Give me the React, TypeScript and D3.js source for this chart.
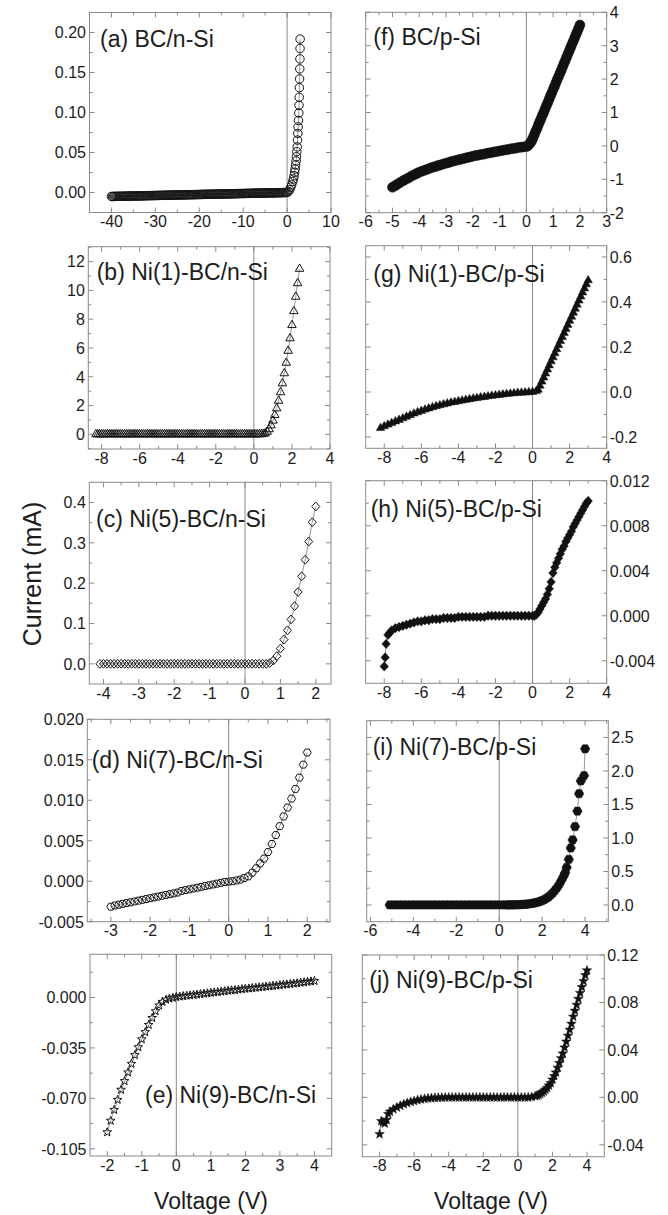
import React from 'react';
import * as d3 from 'd3';

// ---------------- data (voltage V, current mA) ----------------
// (a) BC/n-Si
const aV = [
  -40,-39.75,-39.5,-39.25,-39,-38.75,-38.5,-38.25,
  -38,-37.75,-37.5,-37.25,-37,-36.75,-36.5,-36.25,
  -36,-35.75,-35.5,-35.25,-35,-34.75,-34.5,-34.25,
  -34,-33.75,-33.5,-33.25,-33,-32.75,-32.5,-32.25,
  -32,-31.75,-31.5,-31.25,-31,-30.75,-30.5,-30.25,
  -30,-29.75,-29.5,-29.25,-29,-28.75,-28.5,-28.25,
  -28,-27.75,-27.5,-27.25,-27,-26.75,-26.5,-26.25,
  -26,-25.75,-25.5,-25.25,-25,-24.75,-24.5,-24.25,
  -24,-23.75,-23.5,-23.25,-23,-22.75,-22.5,-22.25,
  -22,-21.75,-21.5,-21.25,-21,-20.75,-20.5,-20.25,
  -20,-19.75,-19.5,-19.25,-19,-18.75,-18.5,-18.25,
  -18,-17.75,-17.5,-17.25,-17,-16.75,-16.5,-16.25,
  -16,-15.75,-15.5,-15.25,-15,-14.75,-14.5,-14.25,
  -14,-13.75,-13.5,-13.25,-13,-12.75,-12.5,-12.25,
  -12,-11.75,-11.5,-11.25,-11,-10.75,-10.5,-10.25,
  -10,-9.75,-9.5,-9.25,-9,-8.75,-8.5,-8.25,
  -8,-7.75,-7.5,-7.25,-7,-6.75,-6.5,-6.25,
  -6,-5.75,-5.5,-5.25,-5,-4.75,-4.5,-4.25,
  -4,-3.75,-3.5,-3.25,-3,-2.75,-2.5,-2.25,
  -2,-1.75,-1.5,-1.25,-1,-0.75,-0.5,-0.25,
  0,
  0.3,0.6,0.84,1.05,1.29,1.45,1.6,1.72,1.83,1.94,2.05,2.13,2.21,2.3,2.38,2.44,2.52,2.59,2.66,2.72,2.76,2.8,2.84,2.88,2.92,2.95,2.97
];
const aI = [
  -0.0050,-0.0050,-0.0049,-0.0049,-0.0049,-0.0048,-0.0048,-0.0048,
  -0.0048,-0.0047,-0.0047,-0.0047,-0.0046,-0.0046,-0.0046,-0.0045,
  -0.0045,-0.0045,-0.0044,-0.0044,-0.0044,-0.0043,-0.0043,-0.0043,
  -0.0043,-0.0042,-0.0042,-0.0042,-0.0041,-0.0041,-0.0041,-0.0040,
  -0.0040,-0.0040,-0.0039,-0.0039,-0.0039,-0.0038,-0.0038,-0.0038,
  -0.0038,-0.0037,-0.0037,-0.0037,-0.0036,-0.0036,-0.0036,-0.0035,
  -0.0035,-0.0035,-0.0034,-0.0034,-0.0034,-0.0033,-0.0033,-0.0033,
  -0.0033,-0.0032,-0.0032,-0.0032,-0.0031,-0.0031,-0.0031,-0.0030,
  -0.0030,-0.0030,-0.0029,-0.0029,-0.0029,-0.0028,-0.0028,-0.0028,
  -0.0028,-0.0027,-0.0027,-0.0027,-0.0026,-0.0026,-0.0026,-0.0025,
  -0.0025,-0.0025,-0.0024,-0.0024,-0.0024,-0.0023,-0.0023,-0.0023,
  -0.0023,-0.0022,-0.0022,-0.0022,-0.0021,-0.0021,-0.0021,-0.0020,
  -0.0020,-0.0020,-0.0019,-0.0019,-0.0019,-0.0018,-0.0018,-0.0018,
  -0.0018,-0.0017,-0.0017,-0.0017,-0.0016,-0.0016,-0.0016,-0.0015,
  -0.0015,-0.0015,-0.0014,-0.0014,-0.0014,-0.0013,-0.0013,-0.0013,
  -0.0013,-0.0012,-0.0012,-0.0012,-0.0011,-0.0011,-0.0011,-0.0010,
  -0.0010,-0.0010,-0.0009,-0.0009,-0.0009,-0.0008,-0.0008,-0.0008,
  -0.0008,-0.0007,-0.0007,-0.0007,-0.0006,-0.0006,-0.0006,-0.0005,
  -0.0005,-0.0005,-0.0004,-0.0004,-0.0004,-0.0003,-0.0003,-0.0003,
  -0.0003,-0.0002,-0.0002,-0.0002,-0.0001,-0.0001,-0.0001,0.0000,
  0.0000,
  0.0013,0.0034,0.0067,0.0096,0.0137,0.017,0.021,0.0253,0.0294,0.0344,0.0394,0.0447,0.051,0.057,0.0655,0.0738,0.082,0.09,0.0994,0.109,0.119,0.131,0.142,0.1545,0.167,0.18,0.1918
];

// (f) BC/p-Si
const fV = [
  -5.0,-4.9,-4.8,-4.7,-4.6,-4.5,-4.4,-4.3,-4.2,-4.1,
  -4.0,-3.9,-3.8,-3.7,-3.6,-3.5,-3.4,-3.3,-3.2,-3.1,
  -3.0,-2.9,-2.8,-2.7,-2.6,-2.5,-2.4,-2.3,-2.2,-2.1,
  -2.0,-1.9,-1.8,-1.7,-1.6,-1.5,-1.4,-1.3,-1.2,-1.1,
  -1.0,-0.9,-0.8,-0.7,-0.6,-0.5,-0.4,-0.3,-0.2,-0.1,
  0.0,
  0.05,0.1,0.15,0.2,0.25,0.3,0.35,0.4,0.45,0.5,
  0.55,0.6,0.65,0.7,0.75,0.8,0.85,0.9,0.95,1.0,
  1.05,1.1,1.15,1.2,1.25,1.3,1.35,1.4,1.45,1.5,
  1.55,1.6,1.65,1.7,1.75,1.8,1.85,1.9,1.95,2.0
];
const fI = [
  -1.24,-1.19,-1.14,-1.09,-1.04,-1.00,-0.96,-0.91,-0.87,-0.83,
  -0.79,-0.76,-0.73,-0.70,-0.67,-0.64,-0.62,-0.59,-0.57,-0.54,
  -0.52,-0.50,-0.47,-0.45,-0.43,-0.41,-0.39,-0.37,-0.35,-0.33,
  -0.31,-0.29,-0.28,-0.26,-0.25,-0.23,-0.21,-0.20,-0.18,-0.17,
  -0.15,-0.14,-0.12,-0.11,-0.09,-0.08,-0.07,-0.05,-0.04,-0.03,
  -0.02,
  0.00,0.04,0.09,0.15,0.24,0.34,0.44,0.53,0.63,0.73,
  0.82,0.92,1.01,1.11,1.21,1.30,1.40,1.50,1.59,1.69,
  1.78,1.88,1.98,2.07,2.17,2.26,2.36,2.46,2.55,2.65,
  2.75,2.84,2.94,3.04,3.13,3.23,3.33,3.42,3.52,3.62
];

// (b) Ni(1)-BC/n-Si
const bV = [
  -8.3,-8.2,-8.1,-8.0,-7.9,-7.8,-7.7,-7.6,-7.5,-7.4,
  -7.3,-7.2,-7.1,-7.0,-6.9,-6.8,-6.7,-6.6,-6.5,-6.4,
  -6.3,-6.2,-6.1,-6.0,-5.9,-5.8,-5.7,-5.6,-5.5,-5.4,
  -5.3,-5.2,-5.1,-5.0,-4.9,-4.8,-4.7,-4.6,-4.5,-4.4,
  -4.3,-4.2,-4.1,-4.0,-3.9,-3.8,-3.7,-3.6,-3.5,-3.4,
  -3.3,-3.2,-3.1,-3.0,-2.9,-2.8,-2.7,-2.6,-2.5,-2.4,
  -2.3,-2.2,-2.1,-2.0,-1.9,-1.8,-1.7,-1.6,-1.5,-1.4,
  -1.3,-1.2,-1.1,-1.0,-0.9,-0.8,-0.7,-0.6,-0.5,-0.4,
  -0.3,-0.2,-0.1,0.0,0.1,0.2,0.3,0.4,0.5,0.6,
  0.7,0.8,0.9,1.0,1.1,1.2,1.3,1.4,1.5,1.6,1.7,1.8,1.9,2.0,2.1,2.2,2.3,2.4
];
const bI = [
  0,0,0,0,0,0,0,0,0,0,
  0,0,0,0,0,0,0,0,0,0,
  0,0,0,0,0,0,0,0,0,0,
  0,0,0,0,0,0,0,0,0,0,
  0,0,0,0,0,0,0,0,0,0,
  0,0,0,0,0,0,0,0,0,0,
  0,0,0,0,0,0,0,0,0,0,
  0,0,0,0,0,0,0,0,0,0,
  0,0,0,0,0,0,0,0.01,0.03,0.07,
  0.18,0.35,0.62,0.95,1.34,1.8,2.33,2.92,3.54,4.24,4.97,5.8,6.67,7.59,8.56,9.56,10.5,11.5
];

// (g) Ni(1)-BC/p-Si
const gV = [
  -8.2,-8.0,-7.8,-7.6,-7.4,-7.2,-7.0,-6.8,-6.6,-6.4,
  -6.2,-6.0,-5.8,-5.6,-5.4,-5.2,-5.0,-4.8,-4.6,-4.4,
  -4.2,-4.0,-3.8,-3.6,-3.4,-3.2,-3.0,-2.8,-2.6,-2.4,
  -2.2,-2.0,-1.8,-1.6,-1.4,-1.2,-1.0,-0.8,-0.6,-0.4,
  -0.2,0.0,0.2,
  0.3,0.4,0.5,0.6,0.7,0.8,0.9,1.0,1.1,1.2,1.3,1.4,1.5,1.6,
  1.7,1.8,1.9,2.0,2.1,2.2,2.3,2.4,2.5,2.6,2.7,2.8,2.9,3.0
];
const gI = [
  -0.160,-0.152,-0.145,-0.138,-0.131,-0.124,-0.117,-0.110,-0.103,-0.096,
  -0.090,-0.084,-0.078,-0.073,-0.068,-0.063,-0.059,-0.055,-0.051,-0.047,
  -0.044,-0.041,-0.038,-0.035,-0.032,-0.029,-0.027,-0.024,-0.022,-0.019,
  -0.017,-0.015,-0.013,-0.011,-0.009,-0.007,-0.006,-0.004,-0.003,-0.002,
  -0.001,0.000,0.004,
  0.010,0.028,0.046,0.064,0.082,0.100,0.118,0.136,0.154,0.172,0.190,0.208,0.226,0.244,
  0.262,0.280,0.298,0.316,0.334,0.352,0.370,0.388,0.406,0.424,0.442,0.460,0.478,0.496
];

// (c) Ni(5)-BC/n-Si
const cV = [
  -4.1,-4.0,-3.9,-3.8,-3.7,-3.6,-3.5,-3.4,-3.3,-3.2,
  -3.1,-3.0,-2.9,-2.8,-2.7,-2.6,-2.5,-2.4,-2.3,-2.2,
  -2.1,-2.0,-1.9,-1.8,-1.7,-1.6,-1.5,-1.4,-1.3,-1.2,
  -1.1,-1.0,-0.9,-0.8,-0.7,-0.6,-0.5,-0.4,-0.3,-0.2,
  -0.1,0.0,0.1,0.2,0.3,0.4,0.5,0.6,
  0.7,0.8,0.9,1.0,1.1,1.2,1.3,1.4,1.5,1.6,1.7,1.8,1.9,2.0
];
const cI = [
  0,0,0,0,0,0,0,0,0,0,
  0,0,0,0,0,0,0,0,0,0,
  0,0,0,0,0,0,0,0,0,0,
  0,0,0,0,0,0,0,0,0,0,
  0,0,0,0,0,0,0,0,
  0.002,0.008,0.019,0.038,0.060,0.083,0.110,0.143,0.178,0.217,0.258,0.303,0.351,0.39
];

// (h) Ni(5)-BC/p-Si
const hV = [
  -8.0,-7.95,-7.9,-7.8,-7.7,
  -7.6,-7.4,-7.2,-7.0,-6.8,-6.6,-6.4,-6.2,-6.0,-5.8,
  -5.6,-5.4,-5.2,-5.0,-4.8,-4.6,-4.4,-4.2,-4.0,-3.8,
  -3.6,-3.4,-3.2,-3.0,-2.8,-2.6,-2.4,-2.2,-2.0,-1.8,
  -1.6,-1.4,-1.2,-1.0,-0.8,-0.6,-0.4,-0.2,0.0,
  0.1,0.2,0.3,0.4,0.5,0.6,0.7,0.8,0.9,1.0,
  1.1,1.2,1.3,1.4,1.5,1.6,1.7,1.8,1.9,2.0,
  2.1,2.2,2.3,2.4,2.5,2.6,2.7,2.8,2.9,3.0
];
const hI = [
  -0.0045,-0.0037,-0.0025,-0.0017,-0.0015,
  -0.0013,-0.0011,-0.0010,-0.0009,-0.0008,-0.0007,-0.0006,-0.0005,-0.0005,-0.0004,
  -0.0004,-0.0003,-0.0003,-0.0003,-0.0002,-0.0002,-0.0002,-0.0002,-0.0001,-0.0001,
  -0.0001,-0.0001,-0.0001,-0.0001,-0.0001,-0.0001,0,0,0,0,
  0,0,0,0,0,0,0,0,0,
  0,0.0001,0.0003,0.0006,0.0009,0.0012,0.0015,0.0019,0.0024,0.0030,
  0.0038,0.0043,0.0047,0.0051,0.0055,0.0059,0.0062,0.0066,0.0069,0.0072,
  0.0075,0.0079,0.0082,0.0085,0.0088,0.0091,0.0094,0.0097,0.0100,0.0102
];

// (d) Ni(7)-BC/n-Si
const dV = [
  -3.0,-2.9,-2.8,-2.7,-2.6,-2.5,-2.4,-2.3,-2.2,-2.1,
  -2.0,-1.9,-1.8,-1.7,-1.6,-1.5,-1.4,-1.3,-1.2,-1.1,
  -1.0,-0.9,-0.8,-0.7,-0.6,-0.5,-0.4,-0.3,-0.2,-0.1,
  0.0,0.1,0.2,0.3,0.4,0.5,0.6,0.7,0.8,0.9,
  1.0,1.1,1.2,1.3,1.4,1.5,1.6,1.7,1.8,1.9,2.0
];
const dI = [
  -0.00315,-0.0030,-0.0029,-0.0028,-0.0027,-0.0026,-0.0025,-0.0024,-0.0023,-0.0022,
  -0.0021,-0.0020,-0.0019,-0.0018,-0.0017,-0.0016,-0.0015,-0.0014,-0.0012,-0.0011,
  -0.0010,-0.0009,-0.0008,-0.0007,-0.0006,-0.0005,-0.0004,-0.0003,-0.0002,-0.0001,
  -0.00005,0.0,0.0001,0.0002,0.0004,0.0006,0.00105,0.0016,0.0022,0.0028,
  0.0036,0.0046,0.0057,0.0068,0.0080,0.0091,0.0102,0.0114,0.0128,0.0144,0.0159
];

// (i) Ni(7)-BC/p-Si
const iV = [
  -5.1,-4.9,-4.7,-4.5,-4.3,-4.1,-3.9,-3.7,-3.5,-3.3,
  -3.1,-2.9,-2.7,-2.5,-2.3,-2.1,-1.9,-1.7,-1.5,-1.3,
  -1.1,-0.9,-0.7,-0.5,-0.3,-0.1,0.1,0.3,
  0.4,0.5,0.6,0.7,0.8,0.9,1.0,1.1,1.2,1.3,1.4,1.5,1.6,1.7,
  1.8,1.9,2.0,2.1,2.2,2.3,2.4,2.5,2.6,2.7,2.8,2.9,3.0,
  3.07,3.14,3.24,3.33,3.42,3.53,3.64,3.72,3.8,3.95,4.0
];
const iI = [
  0,0,0,0,0,0,0,0,0,0,
  0,0,0,0,0,0,0,0,0,0,
  0,0,0,0,0,0,0,0,
  0.0,0.0005,0.001,0.002,0.003,0.0045,0.006,0.008,0.010,0.013,0.017,0.022,0.028,0.035,
  0.043,0.053,0.065,0.08,0.10,0.12,0.15,0.18,0.22,0.26,0.31,0.37,0.43,
  0.48,0.56,0.68,0.85,0.97,1.17,1.40,1.66,1.85,1.93,2.33
];

// (e) Ni(9)-BC/n-Si
const eV = [
  -2.0,-1.9,-1.8,-1.7,-1.6,-1.5,-1.4,-1.3,-1.2,-1.1,
  -1.0,-0.9,-0.8,-0.7,-0.6,-0.5,-0.4,-0.3,-0.2,-0.1,
  0.0,0.1,0.2,0.3,0.4,0.5,0.6,0.7,0.8,0.9,
  1.0,1.1,1.2,1.3,1.4,1.5,1.6,1.7,1.8,1.9,
  2.0,2.1,2.2,2.3,2.4,2.5,2.6,2.7,2.8,2.9,
  3.0,3.1,3.2,3.3,3.4,3.5,3.6,3.7,3.8,3.9,4.0
];
const eI = [
  -0.0935,-0.0855,-0.078,-0.071,-0.064,-0.058,-0.052,-0.046,-0.040,-0.0345,
  -0.029,-0.024,-0.019,-0.0142,-0.0095,-0.0055,-0.003,-0.0015,-0.0007,-0.0002,
  0.0004,0.0007,0.0010,0.0013,0.0015,0.0018,0.0021,0.0024,0.0027,0.0030,
  0.0033,0.0036,0.0038,0.0041,0.0044,0.0047,0.0050,0.0052,0.0055,0.0058,
  0.0061,0.0063,0.0066,0.0068,0.0071,0.0073,0.0076,0.0078,0.0081,0.0083,
  0.0086,0.0089,0.0091,0.0094,0.0097,0.0100,0.0103,0.0106,0.0109,0.0112,0.0115
];

// (j) Ni(9)-BC/p-Si
const jV = [
  -8.0,-7.9,-7.8,-7.7,-7.6,-7.5,-7.4,
  -7.2,-7.0,-6.8,-6.6,-6.4,-6.2,-6.0,-5.8,-5.6,-5.4,-5.2,-5.0,-4.8,-4.6,-4.4,-4.2,
  -4.0,-3.8,-3.6,-3.4,-3.2,-3.0,-2.8,-2.6,-2.4,-2.2,-2.0,-1.8,-1.6,-1.4,-1.2,-1.0,
  -0.8,-0.6,-0.4,-0.2,0.0,0.2,0.4,0.6,0.8,1.0,
  1.1,1.2,1.3,1.4,1.5,1.6,1.7,1.8,1.9,2.0,
  2.1,2.2,2.3,2.4,2.5,2.6,2.7,2.8,2.9,3.0,
  3.1,3.2,3.3,3.4,3.5,3.6,3.7,3.8,3.9,4.0
];
const jI = [
  -0.031,-0.020,-0.021,-0.022,-0.019,-0.014,-0.012,
  -0.010,-0.0085,-0.007,-0.0058,-0.0047,-0.0038,-0.003,-0.0023,-0.0017,-0.0012,-0.0008,-0.0006,-0.0004,-0.0003,-0.0002,-0.0001,
  0,0,0,0,0,0,0,0,0,0,0,0,0,0,0,0,
  0,0,0,0,0,0,0,0,0.0003,0.001,
  0.0015,0.002,0.003,0.004,0.005,0.0065,0.008,0.010,0.012,0.015,
  0.018,0.021,0.025,0.029,0.033,0.037,0.042,0.047,0.052,0.057,
  0.062,0.068,0.073,0.078,0.083,0.088,0.093,0.098,0.103,0.107
];

// ---------------- tick values ----------------
const aXTicks = [-40, -30, -20, -10, 0, 10];
const aYTicks = [0, 0.05, 0.1, 0.15, 0.2];
const fXTicks = [-6, -5, -4, -3, -2, -1, 0, 1, 2, 3];
const fYTicks = [-2, -1, 0, 1, 2, 3, 4];
const bXTicks = [-8, -6, -4, -2, 0, 2, 4];
const bYTicks = [0, 2, 4, 6, 8, 10, 12];
const gXTicks = [-8, -6, -4, -2, 0, 2, 4];
const gYTicks = [-0.2, 0, 0.2, 0.4, 0.6];
const cXTicks = [-4, -3, -2, -1, 0, 1, 2];
const cYTicks = [0, 0.1, 0.2, 0.3, 0.4];
const hXTicks = [-8, -6, -4, -2, 0, 2, 4];
const hYTicks = [-0.004, 0, 0.004, 0.008, 0.012];
const dXTicks = [-3, -2, -1, 0, 1, 2];
const dYTicks = [-0.005, 0, 0.005, 0.01, 0.015, 0.02];
const iXTicks = [-6, -4, -2, 0, 2, 4];
const iYTicks = [0, 0.5, 1, 1.5, 2, 2.5];
const eXTicks = [-2, -1, 0, 1, 2, 3, 4];
const eYTicks = [-0.105, -0.07, -0.035, 0];
const jXTicks = [-8, -6, -4, -2, 0, 2, 4];
const jYTicks = [-0.04, 0, 0.04, 0.08, 0.12];

// ---------------- layout ----------------
const FONT = '"Liberation Sans", Arial, Helvetica, sans-serif';
const FRAME = '#8a8a8a';
const INK = '#1c1c1c';

const panels = [
  { title: '(a) BC/n-Si', V: aV, I: aI, xt: aXTicks, yt: aYTicks, xd: 0, yd: 2, xDom: [-45, 10], yDom: [-0.025, 0.225], box: [89.5, 12.5, 331, 212.5], side: 'left', tx: 100, ty: 46.7, mk: 'circle', fill: false, sz: 8.5 },
  { title: '(f) BC/p-Si', V: fV, I: fI, xt: fXTicks, yt: fYTicks, xd: 0, yd: 0, xDom: [-6, 3], yDom: [-2, 4], box: [365.7, 12.3, 606.7, 212.7], side: 'right', tx: 373.3, ty: 45, mk: 'circle', fill: true, sz: 10 },
  { title: '(b) Ni(1)-BC/n-Si', V: bV, I: bI, xt: bXTicks, yt: bYTicks, xd: 0, yd: 0, xDom: [-8.7, 4], yDom: [-1.02, 13.04], box: [88.3, 246.7, 330, 449], side: 'left', tx: 96.7, ty: 280, mk: 'triangle', fill: false, sz: 8.5 },
  { title: '(g) Ni(1)-BC/p-Si', V: gV, I: gI, xt: gXTicks, yt: gYTicks, xd: 0, yd: 1, xDom: [-9, 4], yDom: [-0.25, 0.65], box: [365.7, 245.7, 606.7, 448.3], side: 'right', tx: 373.3, ty: 281.7, mk: 'triangle', fill: true, sz: 8.5 },
  { title: '(c) Ni(5)-BC/n-Si', V: cV, I: cI, xt: cXTicks, yt: cYTicks, xd: 0, yd: 1, xDom: [-4.4, 2.43], yDom: [-0.05, 0.45], box: [89.3, 482.3, 331, 684], side: 'left', tx: 96, ty: 526.7, mk: 'diamond', fill: false, sz: 8 },
  { title: '(h) Ni(5)-BC/p-Si', V: hV, I: hI, xt: hXTicks, yt: hYTicks, xd: 0, yd: 3, xDom: [-9, 4], yDom: [-0.006, 0.012], box: [365.7, 480.7, 606.7, 683.3], side: 'right', tx: 370.7, ty: 516.7, mk: 'diamond', fill: true, sz: 8.5 },
  { title: '(d) Ni(7)-BC/n-Si', V: dV, I: dI, xt: dXTicks, yt: dYTicks, xd: 0, yd: 3, xDom: [-3.6, 2.58], yDom: [-0.005, 0.02], box: [87.3, 719.3, 330, 921.7], side: 'left', tx: 91.7, ty: 768.3, mk: 'hexagon', fill: false, sz: 8 },
  { title: '(i) Ni(7)-BC/p-Si', V: iV, I: iI, xt: iXTicks, yt: iYTicks, xd: 0, yd: 1, xDom: [-6.17, 5.08], yDom: [-0.25, 2.75], box: [366.7, 720.7, 608.3, 921.7], side: 'right', tx: 372.7, ty: 755, mk: 'hexagon', fill: true, sz: 9.5 },
  { title: '(e) Ni(9)-BC/n-Si', V: eV, I: eI, xt: eXTicks, yt: eYTicks, xd: 0, yd: 3, xDom: [-2.5, 4.5], yDom: [-0.11, 0.03], box: [90, 954.3, 331.7, 1156], side: 'left', tx: 145, ty: 1103.3, mk: 'star', fill: false, sz: 9 },
  { title: '(j) Ni(9)-BC/p-Si', V: jV, I: jI, xt: jXTicks, yt: jYTicks, xd: 0, yd: 2, xDom: [-9, 5], yDom: [-0.05, 0.12], box: [362.3, 955, 604.3, 1156.7], side: 'right', tx: 369.3, ty: 988.3, mk: 'star', fill: true, sz: 10 },
];

function symbolPath(type: string, w: number): string {
  const r = w / 2;
  const f = (n: number) => n.toFixed(2);
  if (type === 'circle') return `M${f(r)},0A${f(r)},${f(r)},0,1,1,${f(-r)},0A${f(r)},${f(r)},0,1,1,${f(r)},0Z`;
  if (type === 'triangle') {
    const h = w * 0.866;
    return `M0,${f(-2 * h / 3)}L${f(r)},${f(h / 3)}L${f(-r)},${f(h / 3)}Z`;
  }
  if (type === 'diamond') return `M0,${f(-r * 1.1)}L${f(r)},0L0,${f(r * 1.1)}L${f(-r)},0Z`;
  if (type === 'hexagon') {
    const pts = d3.range(6).map(k => {
      const a = (k * Math.PI) / 3;
      return `${f(r * Math.cos(a))},${f(r * Math.sin(a))}`;
    });
    return 'M' + pts.join('L') + 'Z';
  }
  // star
  const pts = d3.range(10).map(k => {
    const a = -Math.PI / 2 + (k * Math.PI) / 5;
    const rr = k % 2 === 0 ? r : r * 0.42;
    return `${f(rr * Math.cos(a))},${f(rr * Math.sin(a))}`;
  });
  return 'M' + pts.join('L') + 'Z';
}

function minorTicks(ticks: number[], dom: number[]): number[] {
  const step = ticks[1] - ticks[0];
  const lo = Math.min(dom[0], dom[1]);
  const hi = Math.max(dom[0], dom[1]);
  const cands = [ticks[0] - step / 2, ...ticks.map(t => t + step / 2)];
  return cands.filter(v => v > lo + 1e-9 && v < hi - 1e-9);
}

const fmt = (v: number, d: number) => (d === 0 ? String(v) : (Math.abs(v) < 1e-12 ? 0 : v).toFixed(d));

function Panel({ p }: { p: any }) {
  const [x0, y0, x1, y1] = p.box;
  const x = d3.scaleLinear().domain(p.xDom).range([x0, x1]);
  const y = d3.scaleLinear().domain(p.yDom).range([y1, y0]);
  const pts: [number, number][] = p.V.map((v: number, k: number) => [x(v), y(p.I[k])]);
  const line = d3.line()(pts) || '';
  const sym = symbolPath(p.mk, p.sz);
  const xMin = minorTicks(p.xt, p.xDom);
  const yMin = minorTicks(p.yt, p.yDom);
  const MJ = 5, MN = 3;
  return (
    <g>
      <line x1={x(0)} x2={x(0)} y1={y0} y2={y1} stroke={FRAME} strokeWidth={1} />
      <g stroke={FRAME} strokeWidth={1}>
        {p.xt.map((t: number, k: number) => (
          <g key={'xt' + k}>
            <line x1={x(t)} x2={x(t)} y1={y1} y2={y1 - MJ} />
            <line x1={x(t)} x2={x(t)} y1={y0} y2={y0 + MJ} />
          </g>
        ))}
        {xMin.map((t: number, k: number) => (
          <g key={'xm' + k}>
            <line x1={x(t)} x2={x(t)} y1={y1} y2={y1 - MN} />
            <line x1={x(t)} x2={x(t)} y1={y0} y2={y0 + MN} />
          </g>
        ))}
        {p.yt.map((t: number, k: number) => (
          <g key={'yt' + k}>
            <line x1={x0} x2={x0 + MJ} y1={y(t)} y2={y(t)} />
            <line x1={x1} x2={x1 - MJ} y1={y(t)} y2={y(t)} />
          </g>
        ))}
        {yMin.map((t: number, k: number) => (
          <g key={'ym' + k}>
            <line x1={x0} x2={x0 + MN} y1={y(t)} y2={y(t)} />
            <line x1={x1} x2={x1 - MN} y1={y(t)} y2={y(t)} />
          </g>
        ))}
      </g>
      <rect x={x0} y={y0} width={x1 - x0} height={y1 - y0} fill="none" stroke={FRAME} strokeWidth={1} />
      <g fontFamily={FONT} fontSize={16} fill={INK}>
        {p.xt.map((t: number, k: number) => (
          <text key={'xl' + k} x={x(t)} y={y1 + 14.5} textAnchor="middle">{fmt(t, p.xd)}</text>
        ))}
        {p.yt.map((t: number, k: number) => (
          p.side === 'left'
            ? <text key={'yl' + k} x={x0 - 3.5} y={y(t) + 5.8} textAnchor="end">{fmt(t, p.yd)}</text>
            : <text key={'yl' + k} x={x1 + 3} y={y(t) + 5.8} textAnchor="start">{fmt(t, p.yd)}</text>
        ))}
      </g>
      <path d={line} fill="none" stroke="#6a6a6a" strokeWidth={0.7} />
      <g>
        {pts.map((q, k) => (
          <path key={'m' + k} d={sym} transform={`translate(${q[0].toFixed(2)},${q[1].toFixed(2)})`}
            fill={p.fill ? '#111' : 'none'} stroke="#141414" strokeWidth={p.fill ? 0.5 : 1} />
        ))}
      </g>
      <text x={p.tx} y={p.ty} fontFamily={FONT} fontSize={23} fill={INK}>{p.title}</text>
    </g>
  );
}

export default function App() {
  return (
    <svg width={668} height={1215} viewBox="0 0 668 1215"
      style={{ position: 'absolute', left: 0, top: 0, background: '#fff' }}>
      <rect x={0} y={0} width={668} height={1215} fill="#fff" />
      {panels.map((p, k) => <Panel key={k} p={p} />)}
      <text transform="translate(41,574) rotate(-90)" textAnchor="middle" fontFamily={FONT} fontSize={25} fill={INK}>Current (mA)</text>
      <text x={211} y={1209} textAnchor="middle" fontFamily={FONT} fontSize={23} fill={INK}>Voltage (V)</text>
      <text x={491} y={1209} textAnchor="middle" fontFamily={FONT} fontSize={23} fill={INK}>Voltage (V)</text>
    </svg>
  );
}
